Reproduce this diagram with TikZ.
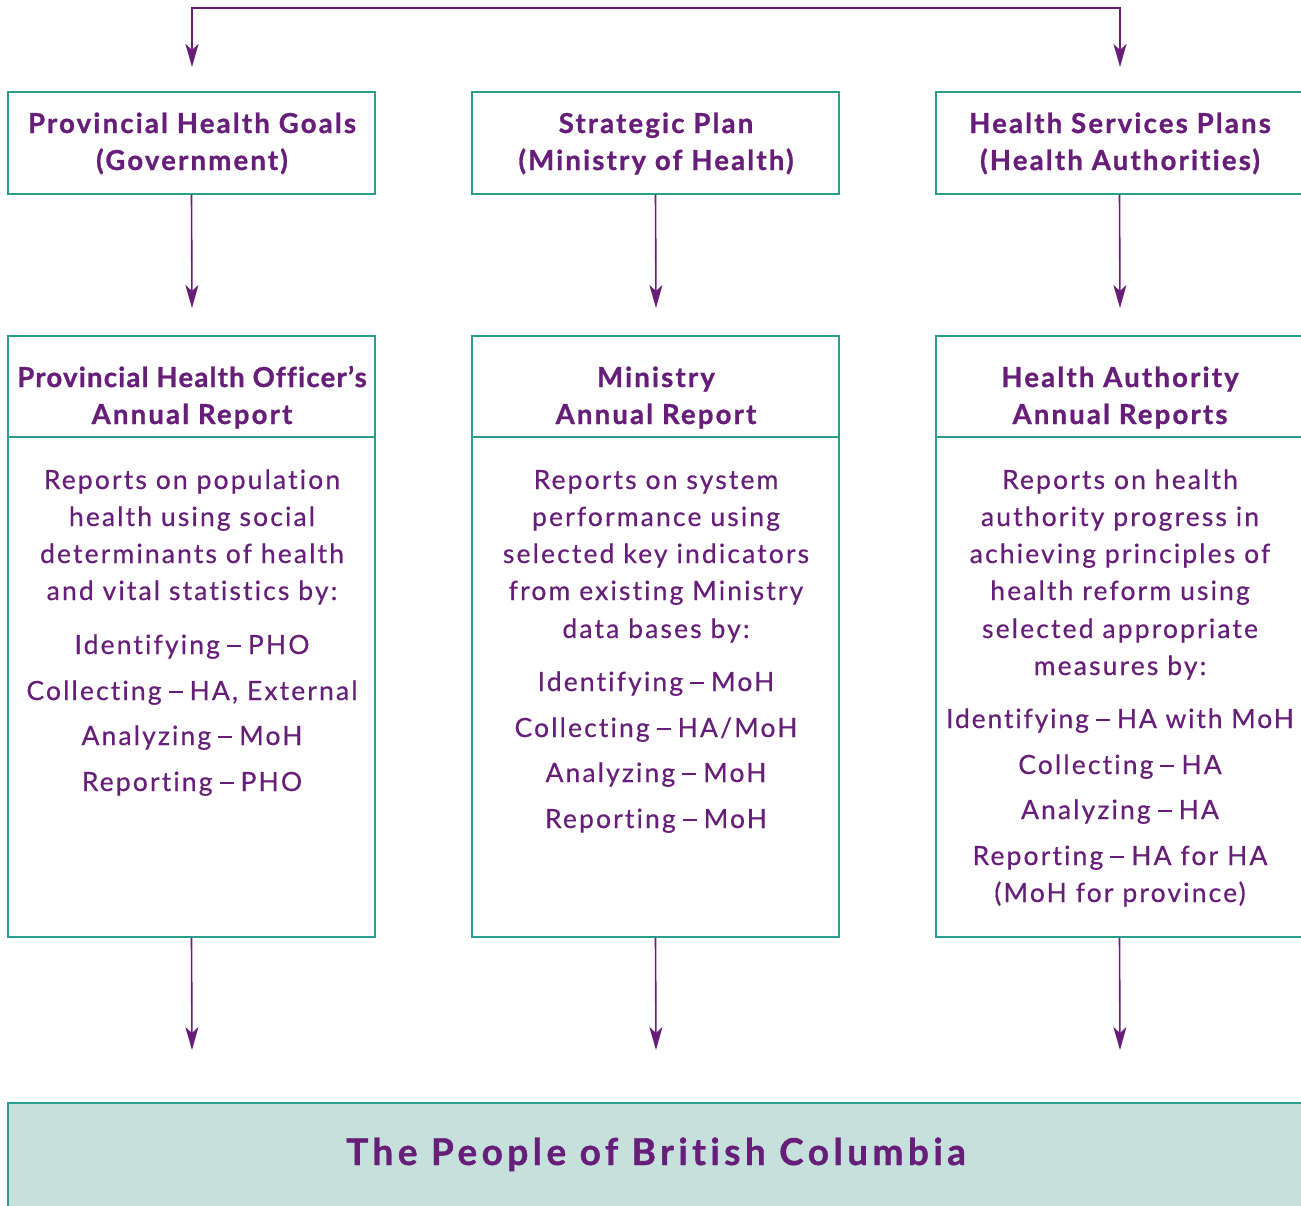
\documentclass[tikz,border=0pt]{standalone}
\usepackage{fontspec}
\setmainfont{Lato}[LetterSpace=8,Ligatures=NoCommon,FakeBold=0.4,BoldFeatures={FakeBold=1}]
\newfontfamily\titlefont{Lato}[LetterSpace=12,Ligatures=NoCommon,BoldFeatures={FakeBold=1}]
\usetikzlibrary{arrows.meta,calc}
\definecolor{purp}{RGB}{102,30,120}
\definecolor{teal}{RGB}{40,158,140}
\definecolor{pale}{RGB}{198,225,220}
\newcommand\bodysize{\fontsize{26.5}{30}\selectfont}
\newcommand\headsize{\fontsize{27.5}{30}\selectfont\bfseries}
\newcommand\titlesize{\titlefont\fontsize{37}{40}\selectfont\bfseries}
% long dash used in the task lists
\newcommand\dsh{\hspace{7pt}\rule[7pt]{14pt}{2.5pt}\hspace{7pt}}
\begin{document}
\begin{tikzpicture}[x=1pt,y=-1pt,
  frame/.style={draw=teal,line width=1.8pt},
  box/.style={frame,fill=white,inner sep=0pt,minimum width=367pt},
  arr/.style={draw=purp,line width=1.6pt,-{Stealth[length=23pt,width=13pt,inset=6pt]}},
  ln/.style={anchor=base,inner sep=0pt,text=purp,font=\bodysize},
  hd/.style={anchor=base,inner sep=0pt,text=purp,font=\headsize}]
\useasboundingbox (0,0) rectangle (1301,1205);

% plan boxes
\node[box,minimum height=102pt] (g1) at (191.5,143) {};
\node[box,minimum height=102pt] (g2) at (655.5,143) {};
\node[box,minimum height=102pt] (g3) at (1119.5,143) {};
% report boxes
\node[box,minimum height=601pt] (r1) at (191.5,636.5) {};
\node[box,minimum height=601pt] (r2) at (655.5,636.5) {};
\node[box,minimum height=601pt] (r3) at (1119.5,636.5) {};
\foreach \b in {r1,r2,r3}
  \draw[frame] ($(\b.north west)+(0,102)$) -- ($(\b.north east)+(0,102)$);
% population box
\node[frame,fill=pale,inner sep=0pt,minimum width=1295pt,minimum height=112pt] (pop) at (655.5,1159) {};

% connectors
\coordinate (t1) at (192,67);
\coordinate (tc) at (656,8);
\coordinate (t3) at (1120,67);
\draw[arr,{Stealth[length=23pt,width=13pt,inset=6pt]}-{Stealth[length=23pt,width=13pt,inset=6pt]}] (t1) |- (tc) -| (t3);
\coordinate (m1) at (192,308);
\coordinate (m2) at (656,308);
\coordinate (m3) at (1120,308);
\draw[arr] (g1.south) -- (m1);
\draw[arr] (g2.south) -- (m2);
\draw[arr] (g3.south) -- (m3);
\coordinate (b1) at (192,1050);
\coordinate (b2) at (656,1050);
\coordinate (b3) at (1120,1050);
\draw[arr] (r1.south) -- (b1);
\draw[arr] (r2.south) -- (b2);
\draw[arr] (r3.south) -- (b3);

% plan titles
\node[hd] (g1a) at (192,133) {Provincial Health Goals};
\node[hd] (g1b) at (192,170) {(Government)};
\node[hd] (g2a) at (656,133) {Strategic Plan};
\node[hd] (g2b) at (656,170) {(Ministry of Health)};
\node[hd] (g3a) at (1120,133) {Health Services Plans};
\node[hd] (g3b) at (1120,170) {(Health Authorities)};

% report titles
\node[hd] (r1a) at (192,387) {\addfontfeature{LetterSpace=4.5}Provincial Health Officer’s};
\node[hd] (r1b) at (192,424) {Annual Report};
\node[hd] (r2a) at (656,387) {Ministry};
\node[hd] (r2b) at (656,424) {Annual Report};
\node[hd] (r3a) at (1120,387) {Health Authority};
\node[hd] (r3b) at (1120,424) {Annual Reports};

% PHO report
\node[ln] (p1) at (192,489) {Reports on population};
\node[ln] (p2) at (192,526) {health using social};
\node[ln] (p3) at (192,563) {determinants of health};
\node[ln] (p4) at (192,600) {and vital statistics by:};
\node[ln] (p5) at (192,654) {Identifying\dsh PHO};
\node[ln] (p6) at (192,700) {Collecting\dsh HA, External};
\node[ln] (p7) at (192,745) {Analyzing\dsh MoH};
\node[ln] (p8) at (192,791) {Reporting\dsh PHO};

% Ministry report
\node[ln] (q1) at (656,489) {Reports on system};
\node[ln] (q2) at (656,526) {performance using};
\node[ln] (q3) at (656,563) {selected key indicators};
\node[ln] (q4) at (656,600) {from existing Ministry};
\node[ln] (q5) at (656,638) {data bases by:};
\node[ln] (q6) at (656,691) {Identifying\dsh MoH};
\node[ln] (q7) at (656,737) {Collecting\dsh HA/MoH};
\node[ln] (q8) at (656,782) {Analyzing\dsh MoH};
\node[ln] (q9) at (656,828) {Reporting\dsh MoH};

% Health authority reports
\node[ln] (s1) at (1120,489) {Reports on health};
\node[ln] (s2) at (1120,526) {authority progress in};
\node[ln] (s3) at (1120,563) {achieving principles of};
\node[ln] (s4) at (1120,600) {health reform using};
\node[ln] (s5) at (1120,638) {selected appropriate};
\node[ln] (s6) at (1120,675) {measures by:};
\node[ln] (s7) at (1120,728) {\addfontfeature{LetterSpace=7}Identifying\dsh HA with MoH};
\node[ln] (s8) at (1120,774) {Collecting\dsh HA};
\node[ln] (s9) at (1120,819) {Analyzing\dsh HA};
\node[ln] (s10) at (1120,865) {Reporting\dsh HA for HA};
\node[ln] (s11) at (1120,902) {(MoH for province)};

% population
\node[anchor=base,inner sep=0pt,text=purp,font=\titlesize] (popt) at (656,1165) {The People of British Columbia};
\end{tikzpicture}
\end{document}
